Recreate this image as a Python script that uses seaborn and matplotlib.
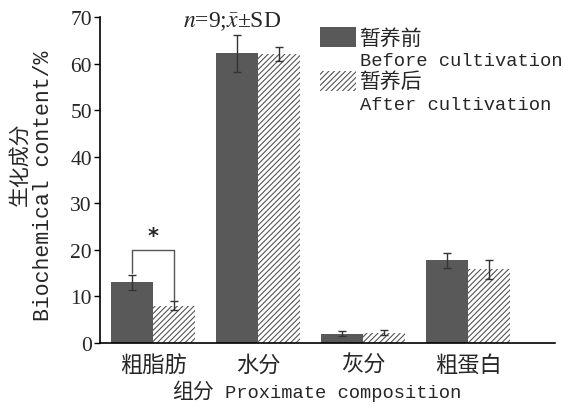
import matplotlib
matplotlib.use("Agg")
import matplotlib.pyplot as plt
import seaborn as sns
import pandas as pd
import numpy as np
from matplotlib.patches import Patch

categories = ["粗脂肪", "水分", "灰分", "粗蛋白"]
groups = ["暂养前", "暂养后"]
groups_en = ["Before cultivation", "After cultivation"]
before_mean = [13.0, 62.2, 2.0, 17.8]
before_sd = [1.7, 4.0, 0.5, 1.6]
after_mean = [8.0, 62.1, 2.2, 15.8]
after_sd = [1.0, 1.5, 0.5, 2.0]
yticks = [0, 10, 20, 30, 40, 50, 60, 70]

sns.set_theme(style="white")
plt.rcParams["font.family"] = ["Liberation Mono", "Noto Sans CJK SC"]
plt.rcParams["mathtext.fontset"] = "stix"
plt.rcParams["hatch.color"] = "#555555"
plt.rcParams["hatch.linewidth"] = 0.8

df = pd.DataFrame({
    "cat": categories * 2,
    "grp": [groups[0]] * 4 + [groups[1]] * 4,
    "val": before_mean + after_mean,
    "sd": before_sd + after_sd,
})

fig = plt.figure(figsize=(5.63, 4.10), dpi=100)
ax = fig.add_axes([0.178, 0.161, 0.808, 0.795])
sns.barplot(data=df, x="cat", y="val", hue="grp", order=categories,
            hue_order=groups, palette=["#595959", "white"], width=0.8,
            errorbar=None, ax=ax, legend=False, edgecolor="none", linewidth=0)

bars = ax.patches[:8]
for i, p in enumerate(bars):
    if i >= 4:
        p.set_hatch("//////")
        p.set_edgecolor("#555555")
        p.set_linewidth(0)
    x = p.get_x() + p.get_width() / 2
    ax.errorbar(x, df["val"][i], yerr=df["sd"][i], color="#333333",
                capsize=3, elinewidth=1, capthick=1)

# significance bracket
xl = bars[0].get_x() + bars[0].get_width() / 2
xr = bars[4].get_x() + bars[4].get_width() / 2
ytop = 20.0
ax.plot([xl, xl, xr, xr],
        [before_mean[0] + before_sd[0] + 0.3, ytop, ytop, after_mean[0] + after_sd[0] + 0.3],
        color="#555555", lw=1)
ax.text((xl + xr) / 2, ytop + 0.8, "*", ha="center", va="bottom", fontsize=15,
        fontweight="bold", family="DejaVu Sans")

ax.text(0.75, 69.3, r"$n$=9;$\bar{x}$±SD", ha="center", va="center", fontsize=17,
        family=["Liberation Serif", "DejaVu Sans"])

ax.set_ylim(0, 70)
ax.set_xlim(-0.505, 3.83)
ax.set_yticks(yticks)
ax.set_yticklabels([str(t) for t in yticks], family="Liberation Serif", fontsize=15.5)
ax.set_xticks(range(len(categories)))
ax.set_xticklabels(categories, family="Noto Sans CJK SC", fontsize=16)
ax.tick_params(axis="y", left=True, length=4, width=1, color="black", pad=2)
ax.tick_params(axis="x", bottom=False, pad=1)
ax.set_xlabel("")
ax.set_ylabel("")
fig.text(0.305, 0.03, "组分", ha="left", va="baseline", fontsize=15,
         family="Noto Sans CJK SC")
fig.text(0.40, 0.03, "Proximate composition", ha="left", va="baseline", fontsize=13.5)
fig.text(0.034, 0.60, "生化成分", rotation=90, ha="center", va="center",
         fontsize=15, family="Noto Sans CJK SC")
fig.text(0.078, 0.546, "Biochemical content/%", rotation=90, ha="center", va="center",
         fontsize=15.5)

for s in ["top", "right"]:
    ax.spines[s].set_visible(False)
for s in ["left", "bottom"]:
    ax.spines[s].set_color("black")
    ax.spines[s].set_linewidth(1.2)

empty = Patch(facecolor="none", edgecolor="none")
handles = [Patch(facecolor="#595959", edgecolor="none"), empty,
           Patch(facecolor="white", edgecolor="#555555", hatch="//////", linewidth=0), empty]
labels = [groups[0], groups_en[0], groups[1], groups_en[1]]
leg = ax.legend(handles, labels, loc="upper left", bbox_to_anchor=(0.463, 1.0),
                frameon=False, fontsize=13.5, handlelength=1.9, handleheight=1.2,
                handletextpad=0.2, labelspacing=0.05, borderaxespad=0.1)
for t in leg.get_texts():
    if t.get_text() in groups:
        t.set_fontsize(15)
        t.set_family("Noto Sans CJK SC")

fig.savefig("out.png", dpi=100)
